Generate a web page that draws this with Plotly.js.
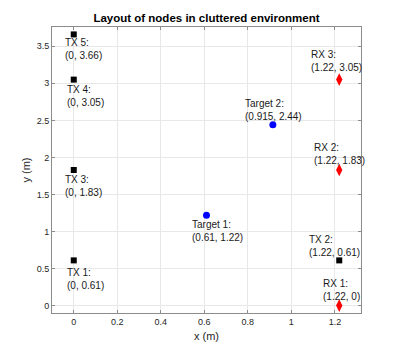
<!DOCTYPE html>
<html>
<head>
<meta charset="utf-8">
<script src="https://cdn.plot.ly/plotly-3.0.1.min.js"></script>
<style>
  html, body { margin: 0; padding: 0; background: #fff; }
  #chart { width: 399px; height: 352px; }
</style>
</head>
<body>
<div id="chart"></div>
<script>
// node positions (m)
const txNames = ["TX 1", "TX 2", "TX 3", "TX 4", "TX 5"];
const txX = [0, 1.22, 0, 0, 0];
const txY = [0.61, 0.61, 1.83, 3.05, 3.66];
const txLabelXY = ["(0, 0.61)", "(1.22, 0.61)", "(0, 1.83)", "(0, 3.05)", "(0, 3.66)"];

const rxNames = ["RX 1", "RX 2", "RX 3"];
const rxX = [1.22, 1.22, 1.22];
const rxY = [0, 1.83, 3.05];
const rxLabelXY = ["(1.22, 0)", "(1.22, 1.83)", "(1.22, 3.05)"];

const tgNames = ["Target 1", "Target 2"];
const tgX = [0.61, 0.915];
const tgY = [1.22, 2.44];
const tgLabelXY = ["(0.61, 1.22)", "(0.915, 2.44)"];

// label offsets in pixels (left edge of text block, vertical centre)
const txShift = [[-9, -18.6], [-32, 14.3], [-11, -15.5], [-9, -16], [-11, -14.8]];
const rxShift = [[-18, 15.3], [-27.7, 16.5], [-30, 18.7]];
const tgShift = [[-17, -15.8], [-30, 15]];

const txt = "#262626";
const font = "Liberation Sans, Arial, sans-serif";

function labels(names, xs, ys, coords, shifts) {
  return names.map((n, i) => ({
    x: xs[i], y: ys[i], xref: "x", yref: "y",
    text: n + ":<br>" + coords[i],
    showarrow: false, xanchor: "left", yanchor: "middle", align: "left",
    xshift: shifts[i][0], yshift: shifts[i][1],
    font: { family: font, size: 10, color: "#1a1a1a" },
  }));
}

const traces = [
  {
    type: "scatter", mode: "markers", name: "TX", x: txX, y: txY,
    marker: { symbol: "square", size: 6, color: "#000" },
  },
  {
    type: "scatter", mode: "markers", name: "RX", x: rxX, y: rxY,
    marker: { symbol: "diamond-tall", size: 9, color: "#ff0000" },
  },
  {
    type: "scatter", mode: "markers", name: "Target", x: tgX, y: tgY,
    marker: { symbol: "circle", size: 7, color: "#0000ff" },
  },
];

const axisCommon = {
  showline: true, linecolor: "#8c8c8c", linewidth: 1, mirror: "ticks",
  ticks: "inside", ticklen: 3, tickcolor: "#8c8c8c",
  showgrid: true, gridcolor: "#e8e8e8", gridwidth: 1,
  zeroline: false,
  tickfont: { family: font, size: 9, color: txt },
};

const layout = {
  width: 399, height: 352,
  margin: { l: 52, r: 38, t: 27, b: 39 },
  paper_bgcolor: "#fff", plot_bgcolor: "#fff",
  showlegend: false,
  title: {
    text: "<b>Layout of nodes in cluttered environment</b>",
    x: 0.5175, xanchor: "center", y: 0.948, yanchor: "middle",
    font: { family: font, size: 11.5, color: "#000" },
  },
  xaxis: Object.assign({}, axisCommon, {
    range: [-0.1, 1.32], tickvals: [0, 0.2, 0.4, 0.6, 0.8, 1, 1.2],
    ticktext: ["0", "0.2", "0.4", "0.6", "0.8", "1", "1.2"],
    title: { text: "x (m)", standoff: 6, font: { family: font, size: 11, color: txt } },
  }),
  yaxis: Object.assign({}, axisCommon, {
    range: [-0.1, 3.76], tickvals: [0, 0.5, 1, 1.5, 2, 2.5, 3, 3.5],
    ticktext: ["0", "0.5", "1", "1.5", "2", "2.5", "3", "3.5"],
    automargin: true,
    title: { text: "y (m)", standoff: 3, font: { family: font, size: 11, color: txt } },
  }),
  annotations: [].concat(
    labels(txNames, txX, txY, txLabelXY, txShift),
    labels(rxNames, rxX, rxY, rxLabelXY, rxShift),
    labels(tgNames, tgX, tgY, tgLabelXY, tgShift)
  ),
};

Plotly.newPlot("chart", traces, layout, { displayModeBar: false, staticPlot: true });
</script>
</body>
</html>
